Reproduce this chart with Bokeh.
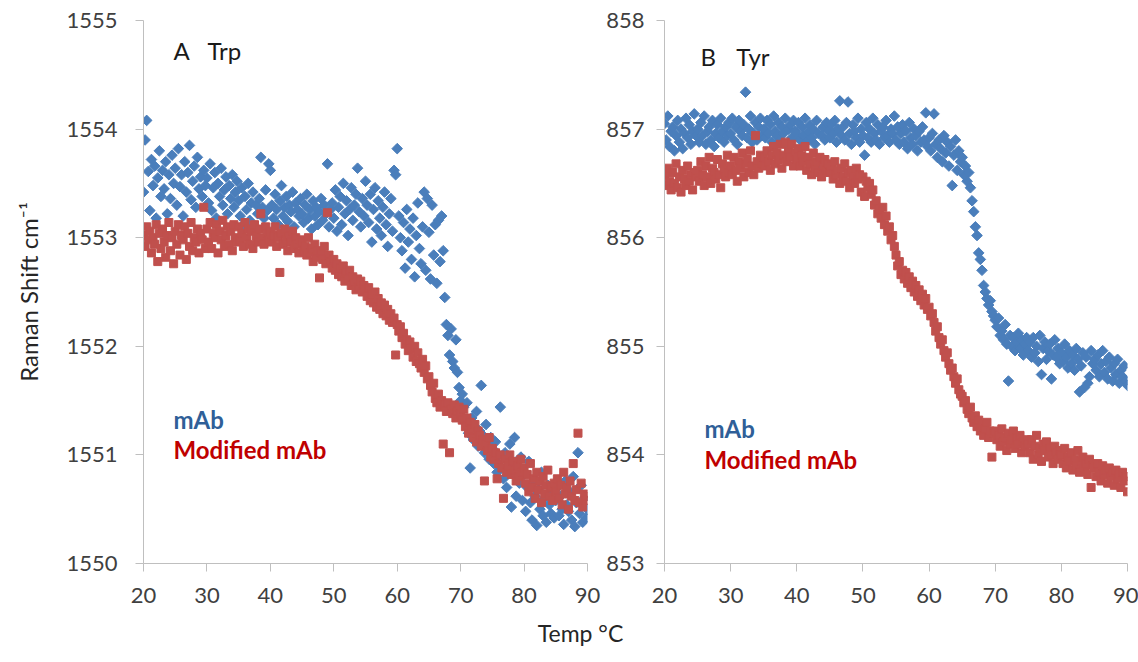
import numpy as np
from bokeh.plotting import figure
from bokeh.layouts import row, column
from bokeh.models import FixedTicker, Label, Range1d
from bokeh.embed import file_html
from bokeh.resources import INLINE

# temperature grid (°C), one reading every 0.25 °C
temps = np.linspace(20, 90, 281)

# Panel A: Trp band position (cm-1)
trp_mab = [
    1553.42, 1553.90, 1554.08, 1553.61, 1553.25, 1553.72, 1553.48, 1553.66, 1553.18, 1553.55, 1553.80, 1553.38, 1553.62, 1553.45, 1553.70, 1553.22, 1553.58, 1553.36, 1553.76, 1553.50,
    1553.64, 1553.30, 1553.82, 1553.47, 1553.58, 1553.20, 1553.70, 1553.42, 1553.60, 1553.85, 1553.35, 1553.52, 1553.66, 1553.28, 1553.74, 1553.45, 1553.56, 1553.38, 1553.62, 1553.48,
    1553.55, 1553.32, 1553.68, 1553.25, 1553.46, 1553.60, 1553.18, 1553.50, 1553.38, 1553.64, 1553.30, 1553.44, 1553.56, 1553.22, 1553.48, 1553.36, 1553.58, 1553.28, 1553.42, 1553.52,
    1553.34, 1553.20, 1553.46, 1553.12, 1553.38, 1553.26, 1553.50, 1553.16, 1553.32, 1553.42, 1553.08, 1553.30, 1553.22, 1553.36, 1553.74, 1553.28, 1553.18, 1553.44, 1553.25, 1553.68,
    1553.62, 1553.30, 1553.18, 1553.40, 1553.26, 1553.12, 1553.34, 1553.48, 1553.20, 1553.28, 1553.38, 1553.15, 1553.30, 1553.24, 1553.42, 1553.10, 1553.32, 1553.26, 1553.20, 1553.36,
    1553.22, 1553.14, 1553.30, 1553.40, 1553.18, 1553.26, 1553.08, 1553.34, 1553.20, 1553.28, 1553.12, 1553.24, 1553.36, 1553.16, 1553.30, 1553.22, 1553.68, 1553.10, 1553.26, 1553.32,
    1553.18, 1553.44, 1553.06, 1553.28, 1553.38, 1553.12, 1553.50, 1553.22, 1553.34, 1553.02, 1553.26, 1553.46, 1553.16, 1553.30, 1553.40, 1553.64, 1553.24, 1553.10, 1553.36, 1553.20,
    1553.52, 1553.30, 1553.14, 1553.40, 1552.96, 1553.26, 1553.46, 1553.08, 1553.34, 1553.18, 1553.02, 1553.28, 1553.42, 1553.12, 1552.92, 1553.22, 1553.36, 1553.06, 1553.62, 1553.58,
    1553.82, 1553.20, 1553.00, 1552.88, 1553.14, 1552.72, 1553.26, 1552.96, 1553.08, 1552.80, 1553.18, 1552.64, 1553.02, 1553.32, 1552.90, 1552.76, 1553.10, 1553.42, 1552.70, 1553.36,
    1553.05, 1552.62, 1553.30, 1552.84, 1553.12, 1552.58, 1553.16, 1552.78, 1553.20, 1552.88, 1552.45, 1552.20, 1552.10, 1551.92, 1552.16, 1551.86, 1551.80, 1552.06, 1551.76, 1551.62,
    1551.50, 1551.56, 1551.44, 1551.30, 1551.48, 1551.20, 1550.88, 1551.34, 1551.14, 1551.26, 1551.40, 1551.08, 1551.22, 1551.64, 1551.18, 1551.02, 1551.28, 1551.10, 1550.96, 1551.16,
    1551.06, 1550.92, 1551.12, 1550.84, 1551.00, 1551.44, 1550.88, 1550.78, 1551.02, 1550.70, 1550.94, 1551.10, 1550.52, 1550.86, 1551.16, 1550.62, 1550.90, 1550.74, 1550.98, 1550.58,
    1550.82, 1550.48, 1550.70, 1550.94, 1550.56, 1550.40, 1550.76, 1550.62, 1550.35, 1550.68, 1550.50, 1550.84, 1550.44, 1550.60, 1550.38, 1550.72, 1550.54, 1550.46, 1550.66, 1550.42,
    1550.58, 1550.70, 1550.44, 1550.62, 1550.50, 1550.36, 1550.76, 1550.54, 1550.48, 1550.66, 1550.40, 1550.80, 1550.34, 1550.56, 1551.02, 1550.46, 1550.72, 1550.38, 1550.60, 1550.42,
    1550.50,
]

trp_mod = [
    1553.02, 1552.92, 1553.10, 1552.98, 1553.06, 1552.86, 1553.00, 1552.94, 1553.12, 1552.78, 1553.04, 1552.90, 1553.08, 1552.96, 1552.82, 1553.02, 1553.14, 1552.88, 1553.00, 1552.76,
    1553.06, 1552.94, 1553.12, 1552.84, 1553.02, 1552.98, 1553.10, 1552.80, 1553.04, 1552.92, 1553.14, 1552.88, 1553.00, 1552.96, 1553.08, 1552.86, 1553.04, 1552.98, 1553.28, 1552.90,
    1553.08, 1552.96, 1553.14, 1552.90, 1553.04, 1553.00, 1553.12, 1552.86, 1553.06, 1552.98, 1553.16, 1552.92, 1553.02, 1553.10, 1552.94, 1553.06, 1552.88, 1553.12, 1553.00, 1552.96,
    1553.10, 1552.98, 1553.04, 1552.92, 1553.14, 1553.00, 1553.08, 1552.94, 1553.06, 1552.90, 1553.12, 1553.02, 1552.96, 1553.08, 1553.22, 1553.00, 1552.94, 1553.10, 1553.04, 1552.98,
    1553.06, 1552.96, 1553.02, 1553.10, 1552.92, 1553.00, 1552.68, 1553.04, 1552.94, 1553.08, 1552.98, 1552.88, 1553.02, 1552.96, 1553.06, 1552.90, 1553.00, 1552.94, 1552.86, 1552.98,
    1552.96, 1552.88, 1552.92, 1552.84, 1553.00, 1552.86, 1552.90, 1552.78, 1552.94, 1552.82, 1552.88, 1552.63, 1552.86, 1552.80, 1552.92, 1552.76, 1553.23, 1552.84, 1552.78, 1552.72,
    1552.80, 1552.70, 1552.76, 1552.66, 1552.72, 1552.64, 1552.74, 1552.60, 1552.68, 1552.62, 1552.70, 1552.56, 1552.64, 1552.58, 1552.52, 1552.62, 1552.54, 1552.60, 1552.50, 1552.56,
    1552.52, 1552.46, 1552.54, 1552.42, 1552.48, 1552.40, 1552.50, 1552.36, 1552.44, 1552.34, 1552.40, 1552.30, 1552.38, 1552.28, 1552.34, 1552.24, 1552.30, 1552.22, 1552.26, 1551.92,
    1552.20, 1552.14, 1552.18, 1552.08, 1552.12, 1552.02, 1552.06, 1551.96, 1552.04, 1551.98, 1551.90, 1552.00, 1551.86, 1551.94, 1551.84, 1551.80, 1551.88, 1551.76, 1551.82, 1551.70,
    1551.72, 1551.64, 1551.58, 1551.66, 1551.52, 1551.48, 1551.56, 1551.44, 1551.50, 1551.10, 1551.46, 1551.40, 1551.48, 1551.02, 1551.42, 1551.38, 1551.46, 1551.34, 1551.40, 1551.44,
    1551.38, 1551.32, 1551.42, 1551.26, 1551.34, 1551.20, 1551.30, 1551.24, 1551.16, 1551.28, 1551.12, 1551.22, 1551.18, 1551.08, 1551.14, 1550.76, 1551.10, 1551.04, 1551.16, 1550.98,
    1551.06, 1550.96, 1551.02, 1550.78, 1550.92, 1551.00, 1550.88, 1550.60, 1550.96, 1550.84, 1550.90, 1551.00, 1550.82, 1550.94, 1550.86, 1550.76, 1550.90, 1550.80, 1550.96, 1550.84,
    1550.88, 1550.74, 1550.82, 1550.66, 1550.92, 1550.70, 1550.78, 1550.60, 1550.84, 1550.68, 1550.76, 1550.56, 1550.80, 1550.64, 1550.72, 1550.86, 1550.62, 1550.70, 1550.58, 1550.74,
    1550.66, 1550.78, 1550.60, 1550.72, 1550.54, 1550.84, 1550.64, 1550.70, 1550.50, 1550.76, 1550.62, 1550.92, 1550.58, 1550.68, 1551.20, 1550.56, 1550.74, 1550.52, 1550.64, 1550.58,
    1550.62,
]

# Panel B: Tyr band position (cm-1)
tyr_mab = [
    857.05, 856.90, 857.12, 856.84, 856.98, 857.02, 856.80, 856.94, 857.08, 856.88, 857.00, 856.82, 856.96, 857.10, 856.92, 857.04, 856.86, 856.98, 857.14, 856.94,
    857.00, 856.88, 857.06, 856.94, 857.12, 856.86, 856.98, 857.02, 856.90, 857.08, 856.84, 856.96, 857.04, 856.92, 857.10, 856.98, 856.88, 857.02, 856.94, 857.06,
    856.96, 857.10, 856.90, 857.02, 856.86, 857.08, 856.98, 856.94, 857.04, 857.34, 856.92, 857.00, 857.12, 856.88, 856.96, 857.06, 856.90, 857.02, 857.10, 856.94,
    857.00, 856.92, 857.08, 856.96, 857.04, 856.88, 857.12, 856.98, 856.94, 857.06, 856.90, 857.02, 856.96, 857.10, 856.86, 857.00, 857.04, 856.92, 857.08, 856.98,
    856.96, 857.06, 856.90, 857.02, 856.94, 857.10, 856.88, 856.98, 857.04, 856.92, 857.00, 856.86, 857.08, 856.96, 856.66, 856.94, 857.02, 856.90, 857.06, 856.98,
    856.92, 857.04, 856.96, 857.08, 856.88, 857.00, 857.26, 856.94, 857.02, 856.90, 857.06, 857.25, 856.96, 856.86, 857.04, 856.98, 856.92, 857.10, 856.88, 857.00,
    856.94, 856.76, 857.06, 856.92, 857.00, 856.88, 857.10, 856.96, 856.90, 857.04, 856.86, 856.98, 857.02, 856.92, 857.08, 856.94, 856.88, 857.00, 856.96, 857.12,
    856.90, 857.02, 856.86, 856.96, 857.04, 856.88, 856.98, 856.82, 857.06, 856.92, 856.86, 857.00, 856.94, 856.80, 856.98, 856.88, 857.02, 856.90, 857.15, 856.84,
    856.92, 856.80, 856.96, 857.14, 856.86, 856.74, 856.90, 856.82, 856.70, 856.94, 856.78, 856.88, 856.66, 856.84, 856.48, 856.76, 856.90, 856.62, 856.80, 856.70,
    856.74, 856.58, 856.66, 856.52, 856.60, 856.46, 856.34, 856.24, 856.10, 856.02, 855.86, 855.80, 855.70, 855.56, 855.50, 855.44, 855.38, 855.42, 855.32, 855.28,
    855.24, 855.18, 855.26, 855.10, 855.14, 855.06, 855.20, 855.02, 854.68, 855.10, 855.00, 855.08, 854.96, 855.04, 855.12, 854.98, 855.06, 854.92, 855.02, 855.08,
    854.96, 855.04, 854.90, 855.08, 854.94, 855.00, 854.86, 855.10, 854.74, 854.98, 855.04, 854.88, 854.96, 855.02, 854.70, 854.92, 855.06, 854.90, 854.98, 854.84,
    854.94, 854.86, 855.02, 854.90, 854.80, 854.96, 854.84, 854.92, 854.78, 854.98, 854.88, 854.58, 854.82, 854.94, 854.62, 854.90, 854.66, 854.72, 854.96, 854.84,
    854.88, 854.78, 854.92, 854.72, 854.84, 854.96, 854.76, 854.86, 854.70, 854.90, 854.80, 854.68, 854.84, 854.74, 854.88, 854.66, 854.78, 854.72, 854.82, 854.68,
    854.64,
]

tyr_mod = [
    856.58, 856.48, 856.64, 856.52, 856.44, 856.60, 856.50, 856.68, 856.46, 856.56, 856.42, 856.62, 856.54, 856.48, 856.66, 856.52, 856.58, 856.44, 856.60, 856.56,
    856.62, 856.52, 856.70, 856.58, 856.48, 856.66, 856.56, 856.74, 856.50, 856.64, 856.60, 856.54, 856.72, 856.58, 856.46, 856.68, 856.62, 856.56, 856.76, 856.60,
    856.66, 856.58, 856.74, 856.62, 856.52, 856.70, 856.64, 856.78, 856.56, 856.68, 856.72, 856.60, 856.80, 856.66, 856.58, 856.94, 856.70, 856.64, 856.76, 856.68,
    856.74, 856.66, 856.80, 856.70, 856.62, 856.76, 856.84, 856.68, 856.78, 856.72, 856.86, 856.64, 856.76, 856.88, 856.70, 856.80, 856.74, 856.86, 856.66, 856.78,
    856.72, 856.82, 856.66, 856.76, 856.70, 856.84, 856.62, 856.74, 856.68, 856.58, 856.78, 856.64, 856.70, 856.60, 856.74, 856.56, 856.66, 856.72, 856.62, 856.68,
    856.60, 856.66, 856.54, 856.70, 856.58, 856.62, 856.50, 856.64, 856.56, 856.68, 856.52, 856.60, 856.46, 856.62, 856.56, 856.50, 856.64, 856.54, 856.58, 856.42,
    856.56, 856.38, 856.52, 856.46, 856.50, 856.40, 856.44, 856.30, 856.34, 856.22, 856.26, 856.18, 856.28, 856.12, 856.20, 856.06, 856.10, 855.98, 856.02, 855.92,
    855.84, 855.74, 855.78, 855.66, 855.70, 855.62, 855.68, 855.58, 855.64, 855.54, 855.60, 855.50, 855.56, 855.46, 855.52, 855.42, 855.48, 855.38, 855.44, 855.34,
    855.36, 855.28, 855.30, 855.22, 855.14, 855.18, 855.08, 855.02, 855.06, 854.96, 854.90, 854.94, 854.84, 854.78, 854.80, 854.72, 854.66, 854.70, 854.60, 854.56,
    854.54, 854.48, 854.50, 854.42, 854.38, 854.44, 854.34, 854.30, 854.36, 854.26, 854.32, 854.22, 854.28, 854.18, 854.24, 854.30, 854.16, 854.22, 853.98, 854.20,
    854.22, 854.14, 854.18, 854.08, 854.24, 854.12, 854.16, 854.04, 854.20, 854.10, 854.14, 854.22, 854.06, 854.16, 854.10, 854.18, 854.02, 854.12, 854.08, 854.14,
    854.10, 854.02, 854.14, 853.96, 854.08, 854.18, 854.00, 854.06, 853.94, 854.10, 854.04, 854.12, 853.98, 854.06, 854.00, 853.92, 854.08, 854.02, 853.96, 854.04,
    854.00, 853.92, 854.06, 853.88, 853.98, 853.94, 854.02, 853.86, 853.96, 853.90, 854.04, 853.84, 853.94, 853.98, 853.88, 853.92, 853.82, 853.96, 853.70, 853.90,
    853.88, 853.80, 853.92, 853.84, 853.76, 853.90, 853.82, 853.86, 853.74, 853.88, 853.80, 853.84, 853.72, 853.86, 853.78, 853.82, 853.70, 853.84, 853.76, 853.80,
    853.66,
]

x_ticks = [20, 30, 40, 50, 60, 70, 80, 90]
trp_ticks = [1550, 1551, 1552, 1553, 1554, 1555]
tyr_ticks = [853, 854, 855, 856, 857, 858]

series_names = ["mAb", "Modified mAb"]
panel_tags = [("A", "Trp"), ("B", "Tyr")]

FONT = "Lato"
BLUE = "#4A7EBB"
RED = "#C0504D"
AXIS_GREY = "#BFBFBF"
TICK_TEXT = "#404040"

PANEL_H = 610


def make_panel(ylo, yhi, yticks, width, border_left, border_right, standoff):
    p = figure(width=width, height=PANEL_H, x_range=Range1d(20, 90), y_range=Range1d(ylo, yhi),
               output_backend="svg", toolbar_location=None,
               min_border_left=border_left, min_border_right=border_right,
               min_border_top=20, min_border_bottom=PANEL_H - 20 - 543)
    p.outline_line_color = None
    p.grid.visible = False
    p.background_fill_color = "white"
    p.border_fill_color = "white"
    for ax in (p.xaxis[0], p.yaxis[0]):
        ax.axis_line_color = AXIS_GREY
        ax.major_tick_line_color = AXIS_GREY
        ax.minor_tick_line_color = None
        ax.major_tick_in = 0
        ax.major_tick_out = 8
        ax.major_label_text_font = FONT
        ax.major_label_text_font_size = "22px"
        ax.major_label_text_color = TICK_TEXT
    p.xaxis.ticker = FixedTicker(ticks=x_ticks)
    p.yaxis.ticker = FixedTicker(ticks=yticks)
    p.xaxis.major_label_standoff = 16
    p.yaxis.major_label_standoff = standoff
    return p


left = make_panel(1550, 1555, trp_ticks, 603, 143, 16, 18)
right = make_panel(853, 858, tyr_ticks, 535, 60, 11, 12)

left.yaxis.axis_label = "Raman Shift cm\u207b\u00b9"
left.yaxis.axis_label_text_font = FONT
left.yaxis.axis_label_text_font_size = "24px"
left.yaxis.axis_label_text_font_style = "normal"
left.yaxis.axis_label_text_color = "#262626"
left.yaxis.axis_label_standoff = 20

for p, ymab, ymod in ((left, trp_mab, trp_mod), (right, tyr_mab, tyr_mod)):
    p.scatter(temps, ymab, marker="square", size=7.5, angle=np.pi / 4,
              fill_color=BLUE, line_color=BLUE)
    p.scatter(temps, ymod, marker="square", size=8,
              fill_color=RED, line_color=RED)

# panel tags
for p, (tag, res), xt, xr, yv in ((left, panel_tags[0], 24.73, 30.1, 1554.72),
                                   (right, panel_tags[1], 25.43, 30.86, 857.67)):
    for txt, xx in ((tag, xt), (res, xr)):
        p.add_layout(Label(x=xx, y=yv, text=txt, text_font=FONT, text_font_size="24px",
                           text_color="#1a1a1a", text_align="left", text_baseline="middle"))

# in-plot legends
for p, xx, y1, y2 in ((left, 24.73, 1551.33, 1551.05), (right, 26.03, 854.24, 853.96)):
    p.add_layout(Label(x=xx, y=y1, text=series_names[0], text_font=FONT, text_font_size="24px",
                       text_font_style="bold", text_color="#2F5F98",
                       text_align="left", text_baseline="middle"))
    p.add_layout(Label(x=xx, y=y2, text=series_names[1], text_font=FONT, text_font_size="24px",
                       text_font_style="bold", text_color="#C00000",
                       text_align="left", text_baseline="middle"))

# shared x-axis title strip
STRIP_H = 662 - PANEL_H
strip = figure(width=1138, height=STRIP_H, x_range=Range1d(0, 1138), y_range=Range1d(0, STRIP_H),
               output_backend="svg", toolbar_location=None, x_axis_type=None, y_axis_type=None,
               min_border=0)
strip.outline_line_color = None
strip.grid.visible = False
strip.add_layout(Label(x=580, y=STRIP_H - 22, text="Temp \u00b0C", text_font=FONT,
                       text_font_size="23px", text_color="#262626",
                       text_align="center", text_baseline="middle"))

layout = column(row(left, right), strip)

open("out.html", "w").write(file_html(layout, INLINE))
